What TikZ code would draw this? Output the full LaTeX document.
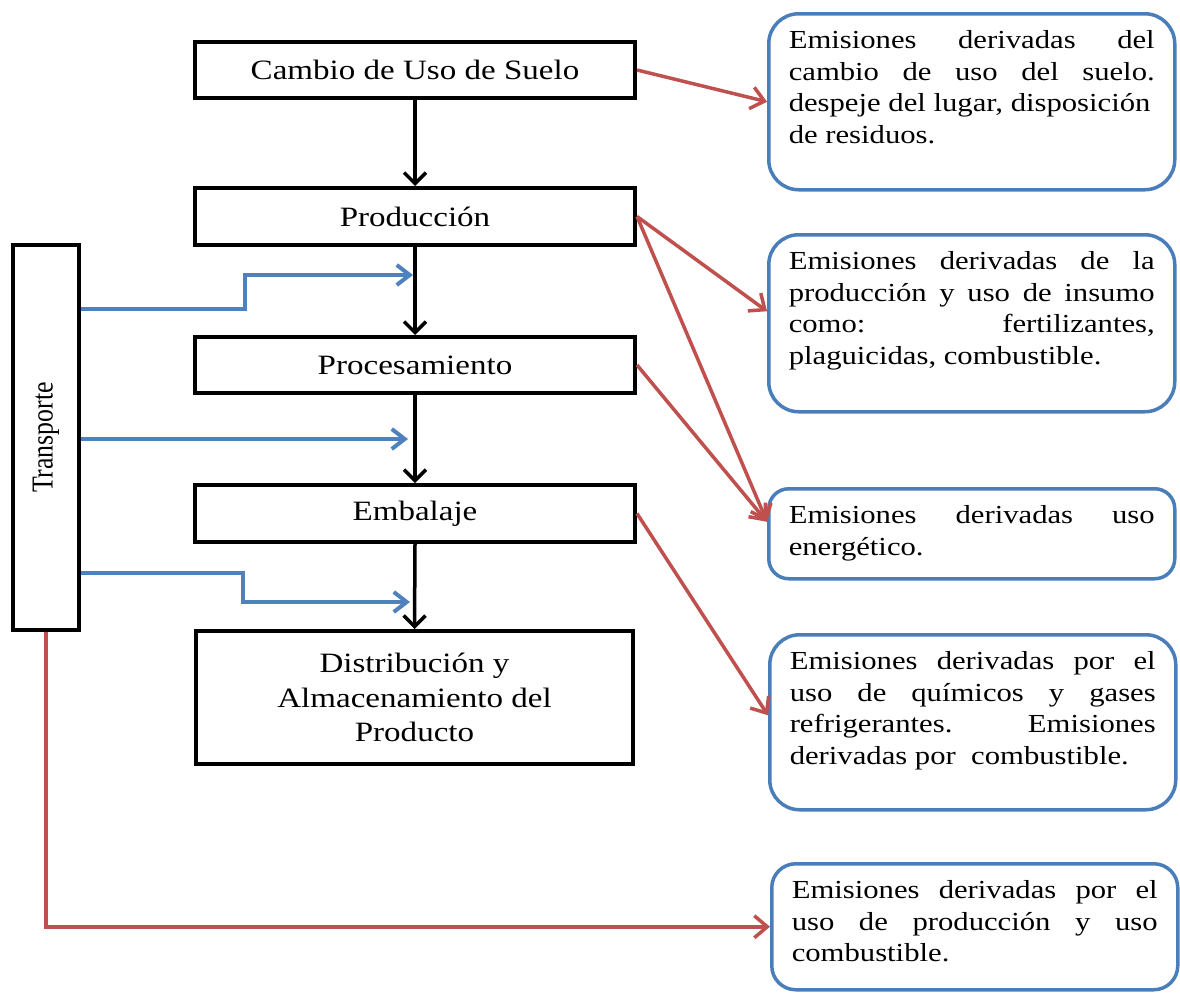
\documentclass[tikz,border=0pt]{standalone}
\usepackage{fontspec}
\setmainfont{Liberation Serif}[FakeStretch=1.18]
\newfontfamily\plainserif{Liberation Serif}
\usetikzlibrary{arrows.meta}
\definecolor{ored}{HTML}{C0504D}
\definecolor{oblue}{HTML}{4F81BD}
\definecolor{cblue}{HTML}{4A7EBB}
\newcommand\ctext[2]{\parbox[c][#1][t]{366pt}{\fontsize{26}{31.5}\selectfont\vspace*{13pt}\strut #2}}
\tikzset{
  stepbox/.style={draw=black, line width=4pt, minimum width=440pt, inner sep=2pt,
    font=\fontsize{28}{34.5}\selectfont, align=center, fill=white},
  callout/.style={draw=cblue, line width=3.5pt, rounded corners=#1, inner xsep=20pt,
    inner ysep=0pt, anchor=north west, fill=white},
  blk/.style={line width=3.5pt, -{Straight Barb[length=11pt,width=22pt]}},
  bluearr/.style={draw=oblue, line width=4pt, -{Straight Barb[length=13pt,width=20pt]}},
  redarr/.style={draw=ored, line width=3.5pt, -{Straight Barb[length=13pt,width=22pt]}},
}
\begin{document}
\begin{tikzpicture}[x=1pt,y=-1pt]
\fill[white] (0,0) rectangle (1180,993);
\useasboundingbox (0,0) rectangle (1180,993);

% process boxes
\node[stepbox, minimum height=56pt] (cambio) at (415,70) {Cambio de Uso de Suelo};
\node[stepbox, minimum height=57pt] (prod) at (415,216.5) {Producción};
\node[stepbox, minimum height=56pt] (proc) at (415,365) {Procesamiento};
\node[stepbox, minimum height=57pt] (emb) at (415,513.5) {Embalaje};
\node[stepbox, minimum height=133pt, minimum width=437pt] (dist) at (414.5,697.5)
  {Distribución y\\Almacenamiento del\\Producto};
\node[draw, line width=4pt, minimum width=66pt, minimum height=385pt, inner sep=0pt, fill=white]
  (tr) at (46,437.5)
  {\rotatebox{90}{\scalebox{1}[1.18]{\plainserif\fontsize{25.8}{30}\selectfont Transporte}}};

% callouts
\node[callout=30pt] (c1) at (767,12) {\ctext{176pt}{Emisiones\hfill derivadas\hfill del\\
  cambio\hfill de\hfill uso\hfill del\hfill suelo.\\
  despeje del lugar, disposición\\
  de residuos.}};
\node[callout=30pt] (c2) at (767,233) {\ctext{177pt}{Emisiones\hfill derivadas\hfill de\hfill la\\
  producción\hfill y\hfill uso\hfill de\hfill insumo\\
  como:\hfill fertilizantes,\\
  plaguicidas, combustible.}};
\node[callout=20pt] (c3) at (767,487) {\ctext{90pt}{Emisiones\hfill derivadas\hfill uso\\
  energético.}};
\node[callout=30pt] (c4) at (768,633) {\ctext{175pt}{Emisiones\hfill derivadas\hfill por\hfill el\\
  uso\hfill de\hfill químicos\hfill y\hfill gases\\
  refrigerantes.\hfill Emisiones\\
  derivadas por\ \ combustible.}};
\node[callout=24pt] (c5) at (770,862) {\ctext{126pt}{Emisiones\hfill derivadas\hfill por\hfill el\\
  uso\hfill de\hfill producción\hfill y\hfill uso\\
  combustible.}};

% black flow arrows
\draw[blk] (cambio.south) -- (prod.north);
\draw[blk] (prod.south) -- (proc.north);
\draw[blk] (proc.south) -- (emb.north);
\draw[blk] (emb.south) -- (dist.north);

% blue transport arrows
\coordinate (b1) at (413,275);
\coordinate (b2) at (408,439);
\coordinate (b3) at (410,602);
\draw[bluearr] (tr.east |- 0,309) -| (245,275) -- (b1);
\draw[bluearr] (tr.east |- b2) -- (b2);
\draw[bluearr] (tr.east |- 0,573) -| (243,602) -- (b3);

% red emission arrows
\draw[redarr] (cambio.east) -- (c1.west);
\draw[redarr] (prod.east) -- ([yshift=12pt]c2.west);
\draw[redarr] (prod.east) -- ([yshift=12pt]c3.west);
\draw[redarr] (proc.east) -- ([yshift=12pt]c3.west);
\draw[redarr] (emb.east) -- ([yshift=7pt]c4.west);
\draw[redarr] (tr.south) |- (c5.west);
\end{tikzpicture}
\end{document}
